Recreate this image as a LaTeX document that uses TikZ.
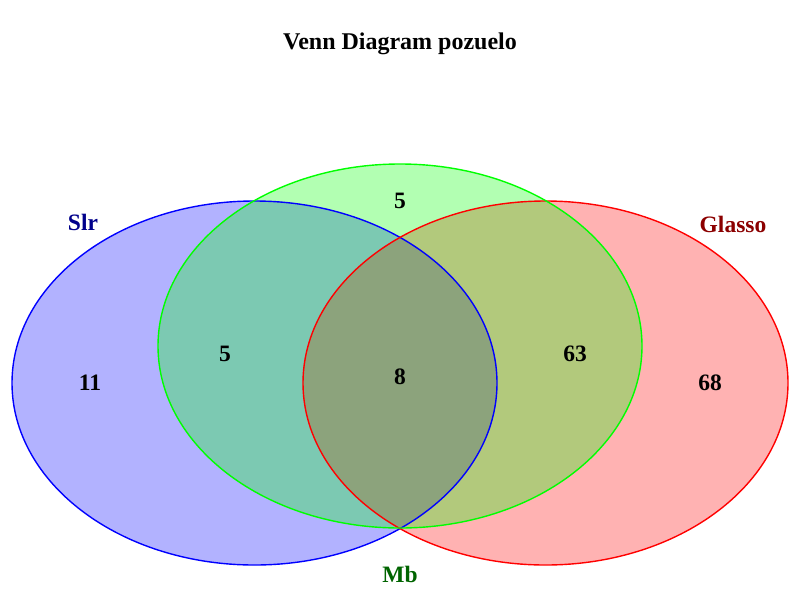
\documentclass[tikz,border=0pt]{standalone}
\usepackage{fontspec}
\setmainfont{Liberation Serif}
\usetikzlibrary{positioning}
\definecolor{slrtext}{RGB}{0,0,139}
\definecolor{glassotext}{RGB}{139,0,0}
\definecolor{mbtext}{RGB}{0,100,0}
\definecolor{mbline}{RGB}{0,255,0}

\begin{document}
\begin{tikzpicture}[
    x=1pt, y=-1pt,
    setfill/.style={fill opacity=0.3},
    setline/.style={line width=1.4pt},
    count/.style={font=\fontsize{23.5}{28}\selectfont\bfseries, text=black, inner sep=0pt},
    setname/.style={font=\fontsize{23.5}{28}\selectfont\bfseries, inner sep=0pt}
]
\useasboundingbox (0,0) rectangle (800,600);

% the three sets: fills first, outlines on top
\fill[setfill, blue] (254.5,383) ellipse [x radius=242.5, y radius=182];
\fill[setfill, red] (545.5,383) ellipse [x radius=242.5, y radius=182];
\fill[setfill, mbline] (400,346) ellipse [x radius=242, y radius=182];
\draw[setline, blue] (254.5,383) ellipse [x radius=242.5, y radius=182];
\draw[setline, red] (545.5,383) ellipse [x radius=242.5, y radius=182];
\draw[setline, mbline] (400,346) ellipse [x radius=242, y radius=182];

\node[font=\fontsize{24}{29}\selectfont\bfseries, inner sep=0pt] (title) at (400,44) {Venn Diagram pozuelo};

\node[setname, text=slrtext] (slr) at (83,222) {Slr};
\node[setname, text=glassotext] (glasso) at (733,224) {Glasso};
\node[setname, text=mbtext] (mb) at (400,574) {Mb};

\node[count] (onlyslr) at (90,383) {11};
\node[count] (slrmb) at (225,354) {5};
\node[count] (onlymb) at (400,201) {5};
\node[count] (all) at (400,377) {8};
\node[count] (mbglasso) at (575,354) {63};
\node[count] (onlyglasso) at (710,383) {68};
\end{tikzpicture}
\end{document}
